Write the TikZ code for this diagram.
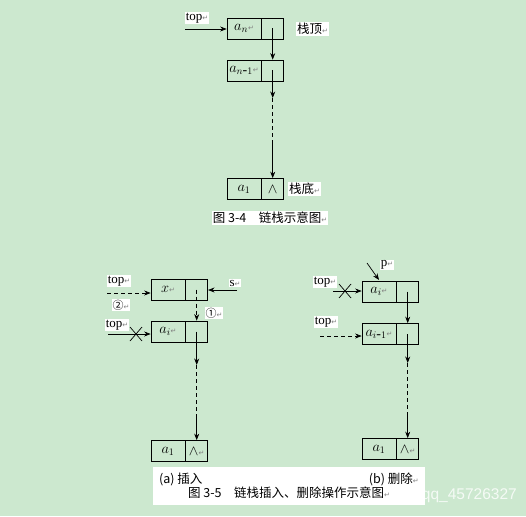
\documentclass[tikz,border=0pt]{standalone}
\usepackage{fontspec}
\setmainfont{Liberation Serif}
\newfontfamily\cjk{Noto Sans CJK SC}
\newfontfamily\dejavu{DejaVu Sans}
\newfontfamily\wmfont{Liberation Sans}
\usetikzlibrary{arrows.meta}
\definecolor{bggreen}{RGB}{204,232,207}
\newcommand{\parmark}{{\dejavu\fontsize{7}{7}\selectfont\textcolor{gray}{↵}}}
\tikzset{
  dat/.style={draw, line width=0.7pt, minimum width=34pt, minimum height=21pt, inner sep=0pt, font=\fontsize{14}{14}\selectfont},
  ptr/.style={draw, line width=0.7pt, minimum width=22pt, minimum height=21pt, inner sep=0pt, anchor=west, font=\fontsize{14}{14}\selectfont},
  lab/.style={fill=white, inner sep=1pt, font=\fontsize{13}{13}\selectfont},
  cjklab/.style={fill=white, inner sep=1pt, font=\cjk\fontsize{12.5}{12.5}\selectfont},
  arr/.style={-{Stealth[length=6.5pt,width=5pt]}, line width=0.7pt},
  darr/.style={-{Stealth[length=6.5pt,width=5pt]}, line width=0.7pt, dash pattern=on 4pt off 3pt},
  dln/.style={line width=0.7pt, dash pattern=on 4pt off 3pt},
  cross/.style={line width=0.7pt}
}
\begin{document}
\begin{tikzpicture}[x=1pt,y=-1pt]
\fill[bggreen] (0,0) rectangle (526,516);
\useasboundingbox (0,0) rectangle (526,516);

% ---------- Figure 3-4 ----------
\node[dat] (an) at (244,28.5) {$a_n$\parmark};
\node[ptr] (anp) at (an.east) {};
\node[dat] (an1) at (244,70.5) {$a_{n\mbox{-}1}$\parmark};
\node[ptr] (an1p) at (an1.east) {};
\node[dat] (a1) at (244,189) {$a_1$};
\node[ptr] (a1p) at (a1.east) {$\wedge$};
\node[lab] (top0) at (197,18) {top\parmark};
\coordinate (t0s) at (185,29);
\draw[arr] (t0s) -- (t0s -| an.west);
\node[cjklab, anchor=west] (zd) at (296,29) {栈顶\parmark};
\node[cjklab, anchor=west] (zdi) at (288,189) {栈底\parmark};
\draw[arr] (anp.center) -- (an1p.north);
\coordinate (y1) at (0,98);
\coordinate (y2) at (0,142);
\coordinate (c1) at (an1p.center |- y1);
\coordinate (c2) at (an1p.center |- y2);
\draw[arr] (an1p.center) -- (c1);
\draw[dln] (c1) -- (c2);
\draw[arr] (c2) -- (a1p.north);
\node[cjklab] (cap1) at (270,218) {图 3-4\quad 链栈示意图\parmark};

% ---------- Figure 3-5 (a) ----------
\node[dat] (xd) at (168,289.5) {$x$\parmark};
\node[ptr] (xp) at (xd.east) {};
\node[dat] (ai) at (168,331.5) {$a_i$\parmark};
\node[ptr] (aip) at (ai.east) {};
\node[dat] (la1) at (168,451) {$a_1$};
\node[ptr] (la1p) at (la1.east) {$\wedge$\parmark};
\node[lab] (topa) at (119,281) {top\parmark};
\coordinate (tas) at (107,293);
\draw[darr] (tas) -- (tas -| xd.west);
\node[lab, font=\cjk\fontsize{11}{11}\selectfont] (n2) at (121,305) {②\parmark};
\node[lab] (s) at (235,283) {s\parmark};
\coordinate (ss) at (237,290);
\draw[arr] (ss) -- (ss -| xp.east);
\draw[darr] (xp.center) -- (aip.north);
\node[lab, font=\cjk\fontsize{11}{11}\selectfont] (n1) at (214,313) {①\parmark};
\node[lab] (topb) at (117,325) {top\parmark};
\coordinate (tbs) at (108,334);
\draw[arr] (tbs) -- (tbs -| ai.west);
\coordinate (xa) at (136,334);
\draw[cross] ([shift={(-6,-7)}]xa) -- ([shift={(6,7)}]xa);
\draw[cross] ([shift={(-6,7)}]xa) -- ([shift={(6,-7)}]xa);
\coordinate (y3) at (0,365);
\coordinate (y4) at (0,417);
\coordinate (d1) at (aip.center |- y3);
\coordinate (d2) at (aip.center |- y4);
\draw[arr] (aip.center) -- (d1);
\draw[dln] (d1) -- (d2);
\draw[arr] (d2) -- (la1p.north);

% ---------- Figure 3-5 (b) ----------
\node[dat] (bi) at (379,291.5) {$a_i$\parmark};
\node[ptr] (bip) at (bi.east) {};
\node[dat] (bi1) at (379,334) {$a_{i\mbox{-}1}$\parmark};
\node[ptr] (bi1p) at (bi1.east) {};
\node[dat] (rb1) at (379,449) {$a_1$};
\node[ptr] (rb1p) at (rb1.east) {$\wedge$\parmark};
\node[lab] (p) at (387,265) {p\parmark};
\coordinate (ps) at (367,263);
\coordinate (pe) at (379,280);
\draw[arr] (ps) -- (pe);
\node[lab] (topc) at (325,282) {top\parmark};
\coordinate (tcs) at (333,291);
\draw[arr] (tcs) -- (tcs -| bi.west);
\coordinate (xb) at (345,291);
\draw[cross] ([shift={(-6,-7)}]xb) -- ([shift={(6,7)}]xb);
\draw[cross] ([shift={(-6,7)}]xb) -- ([shift={(6,-7)}]xb);
\draw[arr] (bip.center) -- (bi1p.north);
\node[lab] (topd) at (326,322) {top\parmark};
\coordinate (tds) at (320,336);
\draw[darr] (tds) -- (tds -| bi1.west);
\coordinate (y5) at (0,363);
\coordinate (y6) at (0,413);
\coordinate (e1) at (bi1p.center |- y5);
\coordinate (e2) at (bi1p.center |- y6);
\draw[arr] (bi1p.center) -- (e1);
\draw[dln] (e1) -- (e2);
\draw[arr] (e2) -- (rb1p.north);

% ---------- caption ----------
\node[fill=white, minimum width=272pt, minimum height=38pt, inner sep=0pt] (capbox) at (289,486) {};
\node[anchor=east, text=white, opacity=0.8, inner sep=0pt, font=\wmfont\fontsize{15.5}{15.5}\selectfont] (wm) at (517,495) {net/qq\_45726327};
\node[cjklab, anchor=west] (capa) at (158,479) {(a) 插入};
\node[cjklab, anchor=east] (capb) at (420,479) {(b) 删除\parmark};
\node[cjklab] (cap2) at (289,493) {图 3-5\quad 链栈插入、删除操作示意图\parmark};
\end{tikzpicture}
\end{document}
